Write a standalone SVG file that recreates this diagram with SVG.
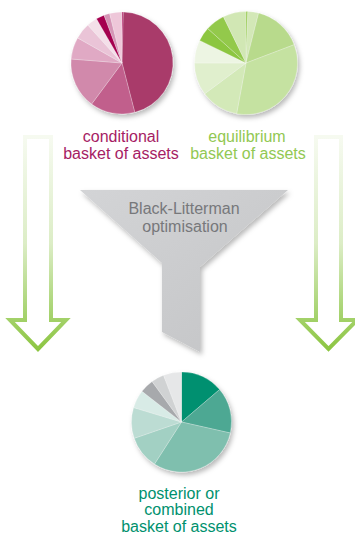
<svg xmlns="http://www.w3.org/2000/svg" width="355" height="537" viewBox="0 0 355 537">
<style>
  text { font-family: "Liberation Sans", Arial, sans-serif; font-size: 16px; text-anchor: middle; }
  .pink { fill: #a61c64; }
  .green { fill: #92c853; }
  .teal { fill: #00916e; }
  .gray { fill: #77787b; }
  .sl { stroke: #ffffff; stroke-width: 0.4; stroke-opacity: 0.6; }
  .arrow { fill: #ffffff; stroke: url(#arrowGrad); stroke-width: 4; stroke-linejoin: miter; }
</style>
<defs>
  <filter id="shadow" x="-20%" y="-20%" width="150%" height="150%">
    <feDropShadow dx="2" dy="3" stdDeviation="2.5" flood-color="#000000" flood-opacity="0.28"/>
  </filter>
  <linearGradient id="arrowGrad" gradientUnits="userSpaceOnUse" x1="0" y1="137" x2="0" y2="350">
    <stop offset="0" stop-color="#f6faf0"/>
    <stop offset="0.5" stop-color="#dcedc6"/>
    <stop offset="0.82" stop-color="#a8d472"/>
    <stop offset="1" stop-color="#8cc541"/>
  </linearGradient>
  <linearGradient id="funnelGrad" x1="0" y1="0" x2="1" y2="1">
    <stop offset="0" stop-color="#d3d4d6"/>
    <stop offset="1" stop-color="#c3c4c6"/>
  </linearGradient>
</defs>

<g id="connectors">
  <path class="arrow" d="M25,137 H51 V320 H66 L38,349 L10,320 H25 Z"/>
  <path class="arrow" d="M316,137 H341 V320 H357 L328.5,349 L300,320 H316 Z"/>
</g>

<g id="pie-conditional">
  <g filter="url(#shadow)" class="sl">
    <path fill="#a5004f" d="M122,63 L122,12 A51,51 0 0 1 123.34,12.02 Z"/>
    <path fill="#a93a6b" d="M122,63 L123.34,12.02 A51,51 0 0 1 134.77,112.37 Z"/>
    <path fill="#c15f8c" d="M122,63 L134.77,112.37 A51,51 0 0 1 91.67,104.0 Z"/>
    <path fill="#d189ab" d="M122,63 L91.67,104.0 A51,51 0 0 1 71.16,59.0 Z"/>
    <path fill="#e0a9c4" d="M122,63 L71.16,59.0 A51,51 0 0 1 77.61,37.89 Z"/>
    <path fill="#eac4d7" d="M122,63 L77.61,37.89 A51,51 0 0 1 87.87,25.10 Z"/>
    <path fill="#f4dfe9" d="M122,63 L87.87,25.10 A51,51 0 0 1 96.5,18.83 Z"/>
    <path fill="#a5004f" d="M122,63 L96.5,18.83 A51,51 0 0 1 104.06,15.26 Z"/>
    <path fill="#d595b6" d="M122,63 L104.06,15.26 A51,51 0 0 1 109.66,13.52 Z"/>
    <path fill="#eec7d9" d="M122,63 L109.66,13.52 A51,51 0 0 1 122,12 Z"/>
  </g>
  <text class="pink" x="121" y="141.5">conditional</text>
  <text class="pink" x="121" y="158.5">basket of assets</text>
</g>

<g id="pie-equilibrium">
  <g filter="url(#shadow)" class="sl">
    <path fill="#8cc63f" d="M246,63 L246,11.5 A51.5,51.5 0 0 1 247.80,11.53 Z"/>
    <path fill="#d3e8b7" d="M246,63 L247.80,11.53 A51.5,51.5 0 0 1 258.63,13.08 Z"/>
    <path fill="#b8da8c" d="M246,63 L258.63,13.08 A51.5,51.5 0 0 1 294.14,44.71 Z"/>
    <path fill="#c5e2a1" d="M246,63 L294.14,44.71 A51.5,51.5 0 0 1 236.62,113.64 Z"/>
    <path fill="#d3e9b8" d="M246,63 L236.62,113.64 A51.5,51.5 0 0 1 204.71,93.78 Z"/>
    <path fill="#e0efcd" d="M246,63 L204.71,93.78 A51.5,51.5 0 0 1 194.5,63 Z"/>
    <path fill="#edf5e3" d="M246,63 L194.5,63 A51.5,51.5 0 0 1 199.71,40.42 Z"/>
    <path fill="#8cc63f" d="M246,63 L199.71,40.42 A51.5,51.5 0 0 1 207.73,28.54 Z"/>
    <path fill="#93c94b" d="M246,63 L207.73,28.54 A51.5,51.5 0 0 1 223.42,16.71 Z"/>
    <path fill="#d1e7b4" d="M246,63 L223.42,16.71 A51.5,51.5 0 0 1 246,11.5 Z"/>
  </g>
  <text class="green" x="247" y="141.5">equilibrium</text>
  <text class="green" x="248" y="158.5">basket of assets</text>
</g>

<g id="funnel">
  <polygon filter="url(#shadow)" fill="url(#funnelGrad)" points="80,190 288,190 200,267 200,352 162,332 162,263"/>
  <text class="gray" x="184" y="214">Black-Litterman</text>
  <text class="gray" x="185" y="231.5">optimisation</text>
</g>

<g id="pie-posterior">
  <g filter="url(#shadow)" class="sl">
    <path fill="#00906f" d="M181.5,422 L181.5,372 A50,50 0 0 1 219.58,389.59 Z"/>
    <path fill="#4da893" d="M181.5,422 L219.58,389.59 A50,50 0 0 1 230.28,432.99 Z"/>
    <path fill="#7fbfae" d="M181.5,422 L230.28,432.99 A50,50 0 0 1 154.49,464.08 Z"/>
    <path fill="#a2d0c3" d="M181.5,422 L154.49,464.08 A50,50 0 0 1 134.22,438.28 Z"/>
    <path fill="#bcdcd3" d="M181.5,422 L134.22,438.28 A50,50 0 0 1 133.63,407.55 Z"/>
    <path fill="#d8ebe6" d="M181.5,422 L133.63,407.55 A50,50 0 0 1 141.99,391.35 Z"/>
    <path fill="#a7a9ac" d="M181.5,422 L141.99,391.35 A50,50 0 0 1 152.11,381.55 Z"/>
    <path fill="#d0d2d3" d="M181.5,422 L152.11,381.55 A50,50 0 0 1 163.58,375.32 Z"/>
    <path fill="#e6e7e8" d="M181.5,422 L163.58,375.32 A50,50 0 0 1 181.5,372 Z"/>
  </g>
  <text class="teal" x="179" y="498.5">posterior or</text>
  <text class="teal" x="179" y="515">combined</text>
  <text class="teal" x="179" y="531.5">basket of assets</text>
</g>
</svg>
